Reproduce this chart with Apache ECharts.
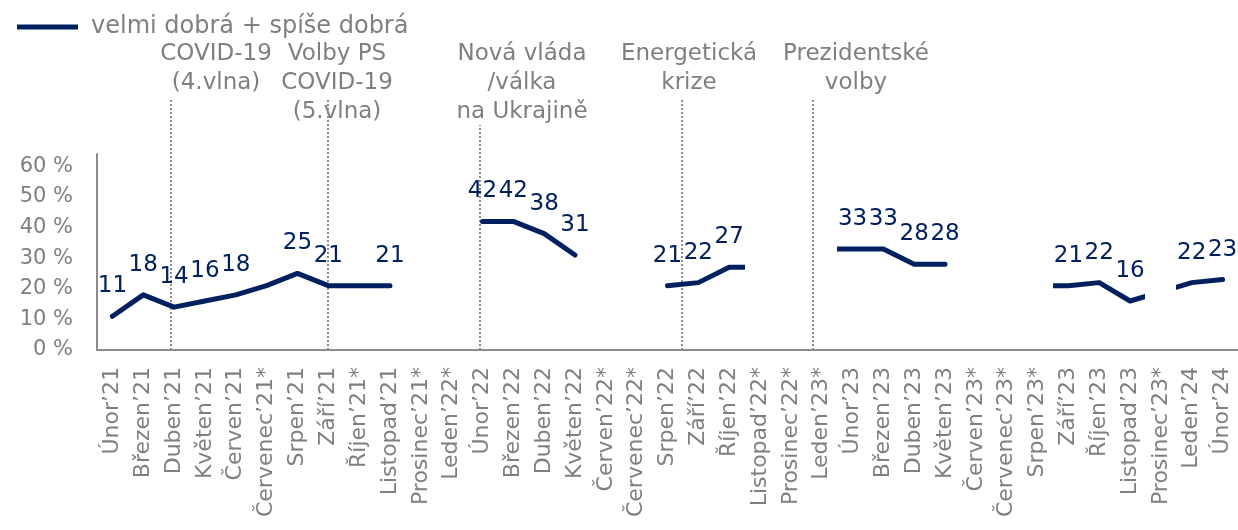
<!DOCTYPE html>
<html>
<head>
<meta charset="utf-8">
<script src="https://cdn.jsdelivr.net/npm/echarts@6/dist/echarts.min.js"></script>
<style>
  html, body { margin: 0; padding: 0; background: #fff; }
  #chart { width: 1238px; height: 530px; }
</style>
</head>
<body>
<div id="chart"></div>
<script>
// měsíce (hvězdička = bez vlastního šetření)
var categories = [
  "Únor’21", "Březen’21", "Duben’21", "Květen’21", "Červen’21", "Červenec’21*",
  "Srpen’21", "Září’21", "Říjen’21*", "Listopad’21", "Prosinec’21*", "Leden’22*",
  "Únor’22", "Březen’22", "Duben’22", "Květen’22", "Červen’22*", "Červenec’22*",
  "Srpen’22", "Září’22", "Říjen’22", "Listopad’22*", "Prosinec’22*", "Leden’23*",
  "Únor’23", "Březen’23", "Duben’23", "Květen’23", "Červen’23*", "Červenec’23*",
  "Srpen’23*", "Září’23", "Říjen’23", "Listopad’23", "Prosinec’23*", "Leden’24", "Únor’24"
];
var seriesName = "velmi dobrá + spíše dobrá";
var values = [
  11, 18, 14, 16, 18, 21,
  25, 21, 21, 21, null, null,
  42, 42, 38, 31, null, null,
  21, 22, 27, 27, null, 33,
  33, 33, 28, 28, null, null,
  21, 21, 22, 16, 19, 22, 23
];
// měsíce, kde je čára přerušená
var hiddenMonths = ["Listopad’22*", "Leden’23*", "Srpen’23*", "Prosinec’23*"];
var yTicks = [0, 10, 20, 30, 40, 50, 60];

// události (pozice na ose měsíců) a jejich popisky
var eventPos = [1.9, 6.97, 11.9, 18.45, 22.7];
var eventTop = [1, 1, 0.9, 1, 1];
var eventLabels = [
  "COVID-19\n(4.vlna)",
  "Volby PS\nCOVID-19\n(5.vlna)",
  "Nová vláda\n/válka\nna Ukrajině",
  "Energetická\nkrize",
  "Prezidentské\nvolby"
];
var eventLabelX = [216, 337, 522, 689, 856];

var NAVY = "#002060";
var GREY = "#7f7f7f";
var FONT = "DejaVu Sans";

var chart = echarts.init(document.getElementById("chart"));

// čára jde po skryté hodnotové ose (index měsíce), aby šlo přerušit půlku úseku
var lineData = values.map(function (v, i) { return [i, v]; });

var pieces = hiddenMonths.map(function (m) {
  var i = categories.indexOf(m);
  return { gt: i - 0.5, lt: i + 0.5, color: "rgba(0,32,96,0)" };
});

var eventLines = eventPos.map(function (x, i) {
  return { coords: [[x, 0], [x, eventTop[i]]] };
});

var option = {
  animation: false,
  textStyle: { fontFamily: FONT },
  legend: {
    left: 12,
    top: 10,
    icon: "rect",
    itemWidth: 61,
    itemHeight: 5,
    data: [{ name: seriesName, itemStyle: { color: NAVY } }],
    textStyle: { fontFamily: FONT, fontSize: 24, color: GREY, padding: [0, 0, 0, 8] }
  },
  grid: [
    { left: 97, right: -2, top: 154, bottom: 180 },
    { left: 97, right: -2, top: 100, bottom: 180 }
  ],
  xAxis: [
    {
      type: "category",
      gridIndex: 0,
      data: categories,
      boundaryGap: true,
      axisLine: { lineStyle: { color: "#8c8c8c", width: 2 } },
      axisTick: { show: false },
      axisLabel: {
        interval: 0,
        rotate: 90,
        margin: 17,
        fontFamily: FONT,
        fontSize: 22,
        color: GREY
      }
    },
    { type: "value", gridIndex: 1, min: -0.5, max: categories.length - 0.5, show: false },
    { type: "value", gridIndex: 0, min: -0.5, max: categories.length - 0.5, show: false }
  ],
  yAxis: [
    {
      type: "value",
      gridIndex: 0,
      position: "left",
      min: 0,
      max: 64,
      interval: 10,
      splitLine: { show: false },
      axisTick: { show: false },
      axisLine: { show: true, onZero: false, lineStyle: { color: "#8c8c8c", width: 2 } },
      axisLabel: {
        showMaxLabel: false,
        margin: 24,
        fontFamily: FONT,
        fontSize: 21,
        color: GREY,
        formatter: function (v) { return yTicks.indexOf(v) >= 0 ? v + " %" : ""; }
      }
    },
    { type: "value", gridIndex: 1, min: 0, max: 1, show: false }
  ],
  visualMap: {
    show: false,
    type: "piecewise",
    seriesIndex: 1,
    dimension: 0,
    pieces: pieces,
    outOfRange: { color: NAVY }
  },
  series: [
    {
      type: "lines",
      coordinateSystem: "cartesian2d",
      xAxisIndex: 1,
      yAxisIndex: 1,
      z: 1,
      silent: true,
      lineStyle: { color: "#8c8c8c", width: 2, type: [2, 2], opacity: 1 },
      data: eventLines
    },
    {
      name: seriesName,
      type: "line",
      xAxisIndex: 2,
      yAxisIndex: 0,
      z: 3,
      data: lineData,
      connectNulls: false,
      showSymbol: true,
      symbol: "circle",
      symbolSize: 1,
      lineStyle: { width: 5, cap: "round", join: "round" },
      label: {
        show: true,
        position: "top",
        distance: 18,
        fontFamily: FONT,
        fontSize: 23,
        color: NAVY,
        formatter: function (p) {
          return categories[p.dataIndex].slice(-1) === "*" ? "" : String(p.value[1]);
        }
      },
      labelLayout: { hideOverlap: false }
    }
  ],
  graphic: eventLabels.map(function (t, i) {
    return {
      type: "text",
      x: eventLabelX[i],
      y: 40,
      style: {
        text: t,
        fill: GREY,
        font: "23px '" + FONT + "'",
        lineHeight: 29,
        align: "center",
        verticalAlign: "top"
      }
    };
  })
};

chart.setOption(option);
</script>
</body>
</html>
